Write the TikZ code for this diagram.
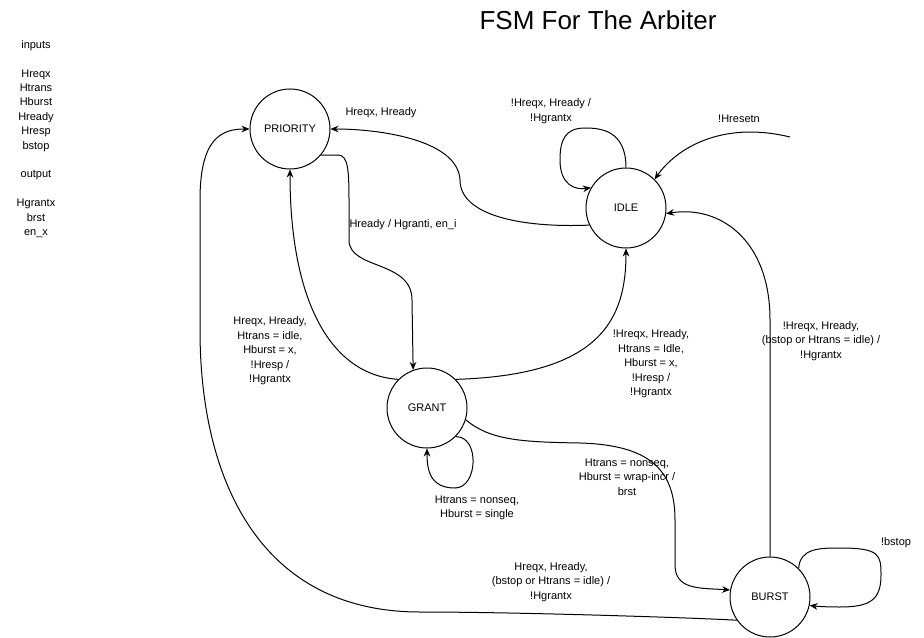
\documentclass[tikz,border=0pt]{standalone}
\usepackage{fontspec}
\setmainfont{Liberation Sans}
\usetikzlibrary{arrows.meta}
\begin{document}
\begin{tikzpicture}[x=0.75pt,y=-0.75pt,
  state/.style={circle,draw,line width=0.75pt,minimum size=60pt,inner sep=0pt,font=\fontsize{8.25pt}{10pt}\selectfont},
  lbl/.style={align=center,inner sep=0pt,font=\fontsize{8.25pt}{10.9pt}\selectfont},
  arr/.style={line width=0.75pt,-{Stealth[length=6pt,width=5pt]}}]
\useasboundingbox (0,0) rectangle (924,638);
\fill[white] (0,0) rectangle (924,638);
% title and legend
\node[font=\fontsize{19.5pt}{22pt}\selectfont,inner sep=0pt] (title) at (598,20) {FSM For The Arbiter};
\node[lbl,font=\fontsize{8.25pt}{10.8pt}\selectfont] (legend) at (36,139) {inputs\\ \mbox{}\\ Hreqx\\ Htrans\\ Hburst\\ Hready\\ Hresp\\ bstop\\ \mbox{}\\ output\\ \mbox{}\\ Hgrantx\\ brst\\ en\_x};
% states
\node[state] (pri) at (290,129) {PRIORITY};
\node[state] (idle) at (626,208) {IDLE};
\node[state] (grant) at (427,408) {GRANT};
\node[state] (burst) at (770,597) {BURST};
\coordinate (rs) at (790,137);
% transitions
\draw[arr] (burst.215) .. controls (700,618) and (520,612) .. (420,612) .. controls (260,612) and (200,480) .. (200,330) -- (200,200) .. controls (200,140) and (220,129) .. (pri.west);
\draw[arr] (burst.north) -- (770,320) .. controls (770,240) and (720,205) .. (idle.-8);
\draw[arr] (grant.-17) .. controls (490,440) and (520,442) .. (580,443) .. controls (650,445) and (675,470) .. (675,520) -- (675,565) .. controls (675,590) and (700,588) .. (burst.170);
\draw[arr] (grant.-45) .. controls (480,436) and (478,488) .. (455,488) .. controls (430,488) and (427,470) .. (grant.south);
\draw[arr] (grant.45) .. controls (600,375) and (626,320) .. (idle.south);
\draw[arr] (grant.135) .. controls (330,375) and (290,300) .. (pri.south);
\draw[arr] (pri.-40) -- (338,155) .. controls (348,155) and (349,170) .. (349,200) -- (349,240) .. controls (349,270) and (412,260) .. (412,300) -- (grant.110);
\draw[arr] (idle.205) .. controls (520,228) and (460,215) .. (460,180) .. controls (458,140) and (380,129) .. (pri.east);
\draw[arr] (idle.north) .. controls (626,130) and (600,128) .. (585,128) .. controls (565,128) and (560,140) .. (560,160) .. controls (560,185) and (575,190) .. (idle.150);
\draw[arr] (rs) .. controls (720,120) and (675,150) .. (idle.45);
\draw[arr] (burst.45) .. controls (800,548) and (820,548) .. (840,548) .. controls (880,548) and (881,555) .. (881,575) .. controls (881,600) and (870,607) .. (840,607) .. controls (822,607) and (814,606) .. (burst.-12);
% labels
\node[lbl] (l1) at (381,113) {Hreqx, Hready};
\node[lbl] (l2) at (551,111) {!Hreqx, Hready /\\ !Hgrantx};
\node[lbl] (l3) at (739,119) {!Hresetn};
\node[lbl] (l4) at (403,225) {Hready / Hgranti, en\_i};
\node[lbl] (l5) at (270,351) {Hreqx, Hready,\\ Htrans = idle,\\ Hburst = x,\\ !Hresp /\\ !Hgrantx};
\node[lbl] (l6) at (651,364) {!Hreqx, Hready,\\ Htrans = Idle,\\ Hburst = x,\\ !Hresp /\\ !Hgrantx};
\node[lbl] (l7) at (821,341) {!Hreqx, Hready,\\ (bstop or Htrans = idle) /\\ !Hgrantx};
\node[lbl] (l8) at (627,477) {Htrans = nonseq,\\ Hburst = wrap-incr /\\ brst};
\node[lbl] (l9) at (477,508) {Htrans = nonseq,\\ Hburst = single};
\node[lbl] (l10) at (551,582) {Hreqx, Hready,\\ (bstop or Htrans = idle) /\\ !Hgrantx};
\node[lbl] (l11) at (896,543) {!bstop};
\end{tikzpicture}
\end{document}
